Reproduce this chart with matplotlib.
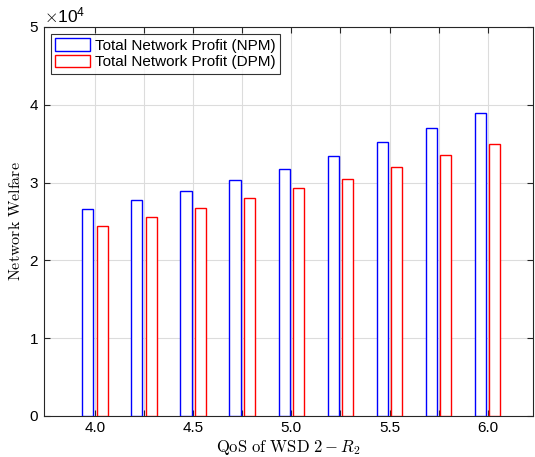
import matplotlib
matplotlib.use("Agg")
import matplotlib.pyplot as plt
import numpy as np
from matplotlib.ticker import ScalarFormatter, MultipleLocator

plt.rcParams['font.family'] = ['Liberation Sans', 'DejaVu Sans']
plt.rcParams['mathtext.fontset'] = 'cm'

# QoS values of WSD 2
qos = [4.0, 4.25, 4.5, 4.75, 5.0, 5.25, 5.5, 5.75, 6.0]
npm = [26650, 27750, 28950, 30300, 31800, 33450, 35200, 37000, 38950]
dpm = [24450, 25600, 26750, 27950, 29250, 30500, 32050, 33550, 35000]

fig = plt.figure(figsize=(5.35, 4.57), dpi=100)
ax = fig.add_axes([0.082, 0.09, 0.914, 0.851])

w = 0.057
x = np.array(qos)
ax.bar(x - w / 2 - 0.008, npm, width=w, facecolor='white', edgecolor='blue',
       linewidth=1.0, label='Total Network Profit (NPM)', zorder=3)
ax.bar(x + w / 2 + 0.008, dpm, width=w, facecolor='white', edgecolor='red',
       linewidth=1.0, label='Total Network Profit (DPM)', zorder=3)

ax.set_xlim(3.74, 6.23)
ax.set_ylim(0, 50000)
ax.set_xticks(qos)
ax.set_xticklabels(['4.0', '', '4.5', '', '5.0', '', '5.5', '', '6.0'])
ax.set_yticks([0, 10000, 20000, 30000, 40000, 50000])

fmt = ScalarFormatter(useMathText=True)
fmt.set_powerlimits((0, 0))
ax.yaxis.set_major_formatter(fmt)
ax.yaxis.get_offset_text().set_fontsize(12.5)

ax.tick_params(direction='in', length=4, width=0.8, labelsize=11,
               top=True, right=True, colors='#262626', labelcolor='black')
ax.grid(True, color='#dcdcdc', linewidth=0.8, zorder=0)
for s in ax.spines.values():
    s.set_color('#262626')
    s.set_linewidth(0.8)

ax.set_xlabel(r'$\mathrm{QoS\ of\ WSD\ 2}-R_2$', fontsize=12, labelpad=2)
ax.set_ylabel(r'$\mathrm{Network\ Welfare}$', fontsize=11.5, labelpad=4)

leg = ax.legend(loc='upper left', fontsize=11, frameon=True, fancybox=False,
                edgecolor='black', handlelength=2.3, handleheight=0.9,
                borderpad=0.3, labelspacing=0.1, handletextpad=0.3,
                borderaxespad=0.45)
leg.get_frame().set_linewidth(0.8)

fig.savefig('out.png', dpi=100)
